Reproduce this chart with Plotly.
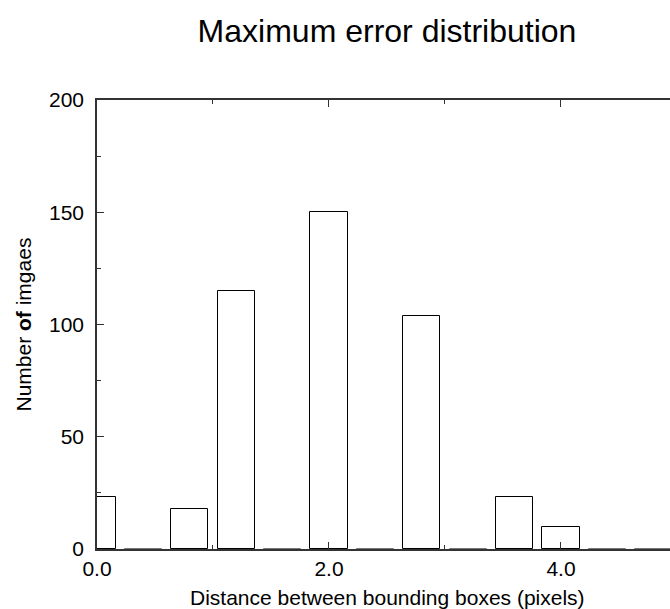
import plotly.graph_objects as go

# Data
bin_centers = [0.0, 0.4, 0.8, 1.2, 1.6, 2.0, 2.4, 2.8, 3.2, 3.6, 4.0, 4.4, 4.8]
counts = [23, 0, 18, 115, 0, 150, 0, 104, 0, 23, 10, 0, 0]
x_tickvals = [0, 2, 4]
x_ticktext = ["0.0", "2.0", "4.0"]
y_tickvals = [0, 50, 100, 150, 200]

title_text = "Maximum error distribution"
x_title = "Distance between bounding boxes (pixels)"
y_title = "Number <b>of</b> imgaes"

FONT = "Liberation Sans, Arial, sans-serif"
AXC = "#333333"

line_colors = ["black" if c > 0 else "#777777" for c in counts]

fig = go.Figure()
fig.add_trace(go.Bar(
    x=bin_centers, y=counts, width=0.32,
    marker=dict(color="white", line=dict(color=line_colors, width=1)),
    showlegend=False,
))

fig.update_layout(
    width=670, height=609,
    margin=dict(l=97, r=0, t=100, b=60),
    plot_bgcolor="white", paper_bgcolor="white",
    font=dict(family=FONT, color="black"),
    title=dict(text=title_text, x=387/670, xanchor="center", y=1-31/609, yanchor="middle",
               font=dict(size=32, family=FONT, color="black")),
    bargap=0,
)
fig.update_xaxes(
    range=[0, 4.94], showgrid=False, zeroline=False,
    showline=True, linecolor=AXC, linewidth=1.5, mirror="ticks",
    ticks="inside", ticklen=7, tickwidth=1, tickcolor=AXC,
    tickvals=x_tickvals, ticktext=x_ticktext,
    tickfont=dict(size=21, family=FONT, color="black"),
    minor=dict(tickvals=[1, 3], ticks="inside", ticklen=4, tickcolor=AXC),
    ticklabelstandoff=0,
)
fig.update_yaxes(
    range=[0, 200], showgrid=False, zeroline=False,
    showline=True, linecolor=AXC, linewidth=1.5,
    ticks="inside", ticklen=7, tickwidth=1, tickcolor=AXC,
    tickvals=y_tickvals,
    tickfont=dict(size=21, family=FONT, color="black"),
    minor=dict(tickvals=[25, 75, 125, 175], ticks="inside", ticklen=4, tickcolor=AXC),
    ticklabelstandoff=7,
)
fig.add_annotation(text=x_title, xref="paper", yref="paper", x=290/573, y=0, yshift=-48,
                   showarrow=False, xanchor="center", yanchor="middle",
                   font=dict(size=21, family=FONT, color="black"))
fig.add_annotation(text=y_title, xref="paper", yref="paper", x=0, xshift=-74, y=0.5,
                   showarrow=False, textangle=-90, xanchor="center", yanchor="middle",
                   font=dict(size=21, family=FONT, color="black"))

fig.write_html("out.html")
